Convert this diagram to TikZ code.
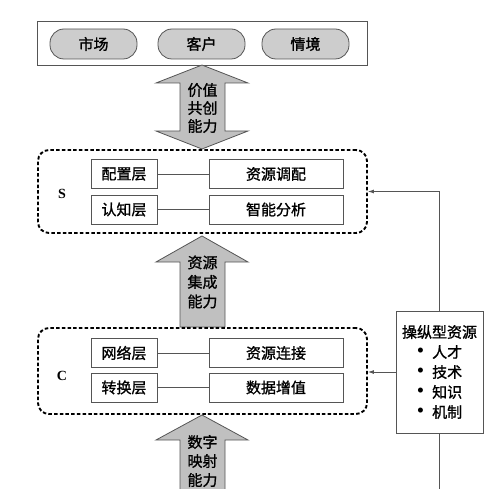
\documentclass[tikz,border=0pt]{standalone}
\usepackage{fontspec}
\setmainfont{Liberation Serif}
\newfontfamily\cjkfont{Noto Sans CJK SC}[FakeBold=1.2]
\usepackage{xcolor}
\usetikzlibrary{arrows.meta}
\definecolor{linegray}{RGB}{85,85,85}
\definecolor{pillgray}{RGB}{205,205,205}
\definecolor{arrowgray}{RGB}{192,192,192}
\newcommand{\resbullet}{{\rmfamily\fontsize{21}{20}\selectfont\textbullet}\hspace{8pt}}

\tikzset{
  cjktext/.style={font=\cjkfont\fontsize{15}{18}\selectfont},
  pill/.style={cjktext, draw=linegray, fill=pillgray, line width=0.8pt, rounded corners=14pt, minimum width=87pt, minimum height=30pt},
  layerbox/.style={cjktext, draw=linegray, line width=0.8pt, minimum width=66pt, minimum height=29pt},
  funcbox/.style={layerbox, minimum width=134pt},
  zone/.style={draw=black, line width=1.9pt, dash pattern=on 3.5pt off 2.2pt, rounded corners=11pt, minimum width=329pt},
  bigarrow/.style={draw=linegray, fill=arrowgray, line width=0.8pt},
  link/.style={draw=linegray, line width=0.7pt},
  feed/.style={draw=linegray, line width=0.8pt, -{Latex[length=6pt,width=4pt]}},
}

\begin{document}
\begin{tikzpicture}[x=1pt, y=-1pt]
    \useasboundingbox (0,0) rectangle (500,489);
    \clip (0,0) rectangle (500,489);

    % environment
    \node[draw=linegray, line width=0.8pt, minimum width=330pt, minimum height=44pt] (env) at (202,43) {};
    \node[pill] (market) at (93.5,44) {市场};
    \node[pill] (client) at (201.5,44) {客户};
    \node[pill] (scene) at (305.5,44) {情境};

    % big arrows
    \filldraw[bigarrow] (202,65) -- (248,83) -- (225,83) -- (225,131) -- (248,131) -- (202,149)
        -- (156,131) -- (180,131) -- (180,83) -- (156,83) -- cycle;
    \node[cjktext, align=center] (cocreate) at (202.5,108) {价值\\共创\\能力};

    \filldraw[bigarrow] (202,236) -- (248,262) -- (225,262) -- (225,327) -- (180,327) -- (180,262)
        -- (156,262) -- cycle;
    \node[cjktext, align=center, font=\cjkfont\fontsize{15}{19.5}\selectfont] (integrate) at (202.5,282) {资源\\集成\\能力};

    \filldraw[bigarrow] (202,415) -- (248,440) -- (225,440) -- (225,500) -- (180,500) -- (180,440)
        -- (156,440) -- cycle;
    \node[cjktext, align=center, font=\cjkfont\fontsize{15}{19}\selectfont] (mapping) at (202.5,461) {数字\\映射\\能力};

    % S layer
    \node[zone, minimum height=83pt] (szone) at (202.5,191.5) {};
    \node[font=\bfseries\fontsize{14}{16}\selectfont] (slabel) at (62,194) {S};
    \node[layerbox] (config) at (124,174) {配置层};
    \node[funcbox] (alloc) at (276,174) {资源调配};
    \node[layerbox] (cognit) at (124,209.5) {认知层};
    \node[funcbox] (analyse) at (276,209.5) {智能分析};
    \draw[link] (config) -- (alloc);
    \draw[link] (cognit) -- (analyse);

    % C layer
    \node[zone, minimum height=86pt] (czone) at (202.5,371) {};
    \node[font=\bfseries\fontsize{14}{16}\selectfont] (clabel) at (62,376) {C};
    \node[layerbox] (network) at (124,353) {网络层};
    \node[funcbox] (connect) at (276,353) {资源连接};
    \node[layerbox] (convert) at (124,387.5) {转换层};
    \node[funcbox] (value) at (276,387.5) {数据增值};
    \draw[link] (network) -- (connect);
    \draw[link] (convert) -- (value);

    % operant resources
    \node[cjktext, draw=linegray, line width=0.8pt, align=center, minimum width=87pt, minimum height=122pt,
        font=\cjkfont\fontsize{15}{20}\selectfont] (resource) at (439.5,372)
        {操纵型资源\\\resbullet 人才\\\resbullet 技术\\\resbullet 知识\\\resbullet 机制};
    \coordinate (resend) at (439.5,500);

    \draw[feed] (resource.north) |- (szone.east);
    \draw[feed] (resource.west) -- (resource.west -| czone.east);
    \draw[link, line width=0.8pt] (resource.south) -- (resend);
\end{tikzpicture}
\end{document}
